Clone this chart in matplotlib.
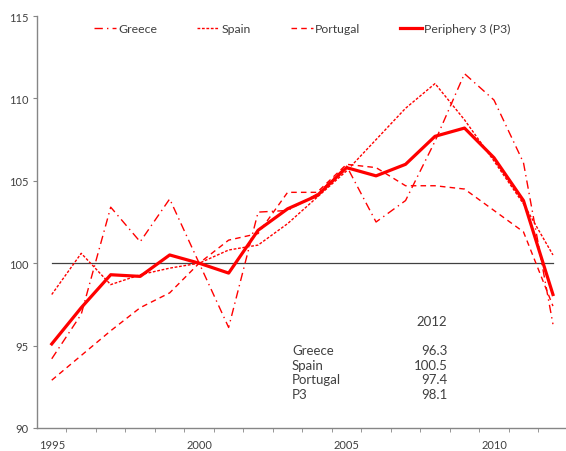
import numpy as np
import matplotlib.pyplot as plt
from matplotlib.ticker import FixedLocator

years = list(range(1995, 2013))

greece = [94.2, 96.9, 103.4, 101.3, 103.9, 100.0, 96.1, 103.1, 103.2, 104.2,
          105.9, 102.5, 103.8, 107.4, 111.5, 109.9, 106.1, 96.3]
spain = [98.1, 100.6, 98.7, 99.3, 99.7, 100.0, 100.8, 101.1, 102.4, 104.0,
         105.6, 107.5, 109.4, 110.9, 108.7, 106.2, 103.6, 100.5]
portugal = [92.9, 94.4, 95.9, 97.3, 98.2, 100.0, 101.4, 101.8, 104.3, 104.3,
            106.0, 105.8, 104.7, 104.7, 104.5, 103.2, 101.9, 97.4]
p3 = [95.1, 97.3, 99.3, 99.2, 100.5, 100.0, 99.4, 102.0, 103.3, 104.1,
      105.8, 105.3, 106.0, 107.7, 108.2, 106.4, 103.8, 98.1]

table_names = ['Greece', 'Spain', 'Portugal', 'P3']
table_values = ['96.3', '100.5', '97.4', '98.1']
year_labels = [1995, 2000, 2005, 2010]

plt.rcParams['font.family'] = ['Lato', 'DejaVu Sans']
txt = '#404040'
axcol = '#868686'
W, H = 566, 452

fig = plt.figure(figsize=(W / 100, H / 100), dpi=100)
ax = fig.add_axes([37 / W, 1 - 429 / H, 1 - 37 / W + 0.003, (429 - 17) / H])

red = '#ff0000'
ax.plot(years, greece, color=red, lw=1.0, ls=(0, (6, 3, 1, 3)), label='Greece')
ax.plot(years, spain, color=red, lw=1.0, ls=(0, (2, 1.2)), label='Spain')
ax.plot(years, portugal, color=red, lw=1.0, ls=(0, (4, 3)), label='Portugal')
ax.plot(years, p3, color=red, lw=2.3, label='Periphery 3 (P3)')

# reference line at 100
ax.plot([years[0], years[-1]], [100, 100], color='#404040', lw=0.9, zorder=1)

ax.set_xlim(1994.5, 2012.5)
ax.set_ylim(90, 115)
ax.set_yticks(np.arange(90, 116, 5))
ax.xaxis.set_major_locator(FixedLocator(year_labels))
ax.xaxis.set_minor_locator(FixedLocator(np.arange(1995.5, 2012.5, 1.0)))
ax.tick_params(axis='x', which='major', length=0, labelsize=8, colors=txt, pad=8)
ax.tick_params(axis='x', which='minor', length=3, color=axcol)
ax.tick_params(axis='y', length=3, color=axcol, labelsize=8, labelcolor=txt, pad=3)

for s in ['top', 'right']:
    ax.spines[s].set_visible(False)
for s in ['left', 'bottom']:
    ax.spines[s].set_color(axcol)
    ax.spines[s].set_linewidth(1.0)

leg = ax.legend(loc='upper center', bbox_to_anchor=(0.5, 1.0), ncol=4, frameon=False,
                fontsize=8.8, handlelength=1.8, handletextpad=0.15, columnspacing=3.3,
                borderaxespad=0.2)
for t in leg.get_texts():
    t.set_color(txt)

# small table of 2012 values (pixel positions converted to figure fractions)
fig.text(447 / W, 1 - 322 / H, '2012', fontsize=9.5, color=txt, ha='right', va='center')
for i, (n, v) in enumerate(zip(table_names, table_values)):
    yy = 1 - (351 + i * 14.6) / H
    fig.text(292 / W, yy, n, fontsize=9.5, color=txt, ha='left', va='center')
    fig.text(448 / W, yy, v, fontsize=9.5, color=txt, ha='right', va='center')

plt.savefig('out.png', dpi=100)
